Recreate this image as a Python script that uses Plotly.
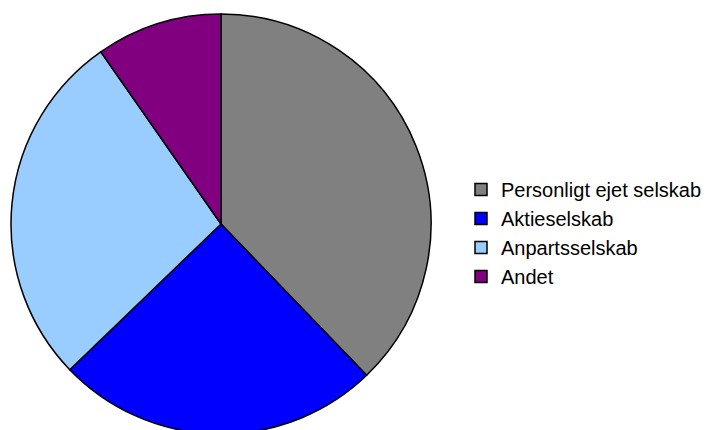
import plotly.graph_objects as go

labels = ["Personligt ejet selskab", "Aktieselskab", "Anpartsselskab", "Andet"]
values = [37.8, 25.0, 27.5, 9.7]
colors = ["#808080", "#0000FF", "#99CCFF", "#800080"]

W, H = 718, 430
T, B = 6, 4  # page body adds 8px offset, so pie is pushed up/left a bit

fig = go.Figure()
fig.add_trace(go.Pie(
    labels=labels,
    values=values,
    sort=False,
    direction="clockwise",
    rotation=0,
    textinfo="none",
    marker=dict(colors=colors, line=dict(color="black", width=1.5)),
    domain=dict(x=[3 / W, 423 / W], y=[0, 1]),
))

fig.update_layout(
    width=W,
    height=H,
    margin=dict(l=0, r=0, t=T, b=B),
    paper_bgcolor="white",
    plot_bgcolor="white",
    font=dict(family="Arial, Liberation Sans, sans-serif", color="black"),
    legend=dict(
        x=453 / W,
        xanchor="left",
        y=(H - B - 225) / (H - T - B),
        yanchor="middle",
        font=dict(size=20, color="black"),
        bgcolor="rgba(0,0,0,0)",
    ),
    showlegend=True,
)

fig.write_html("out.html")
